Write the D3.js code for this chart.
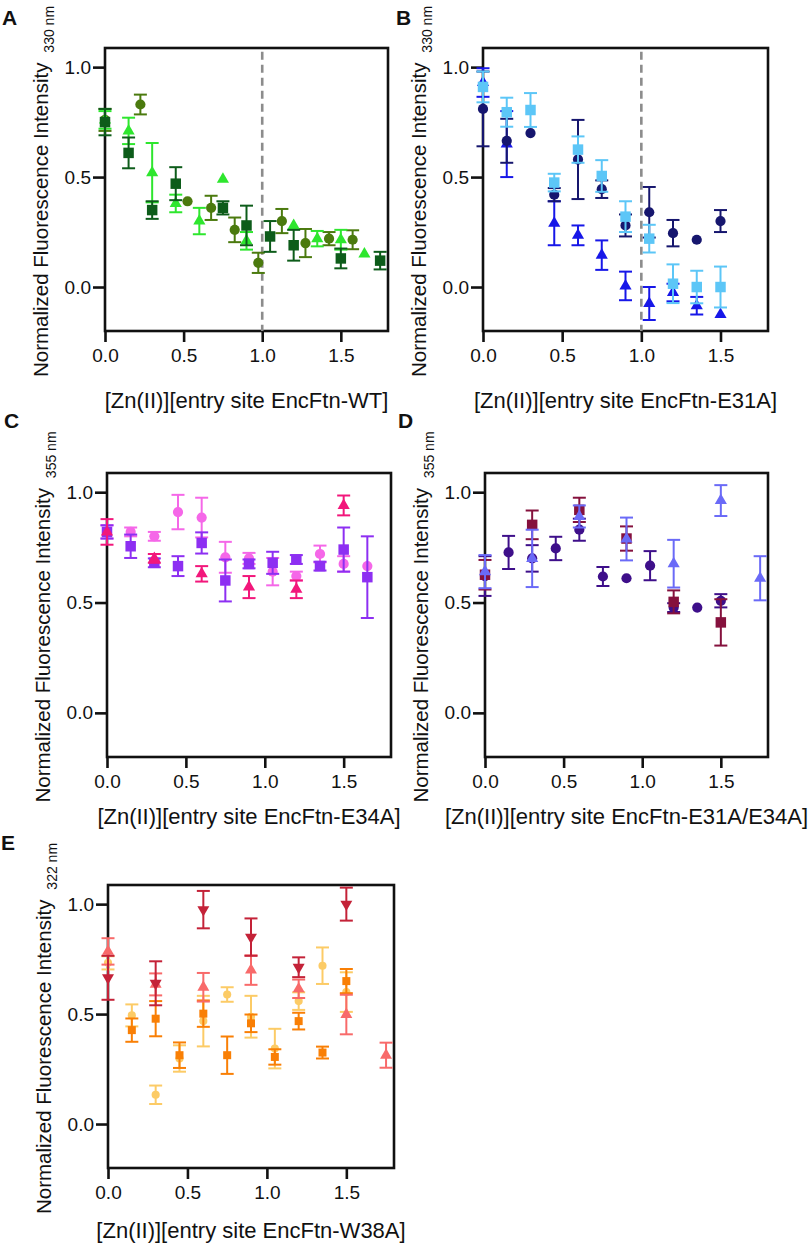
<!DOCTYPE html>
<html>
<head>
<meta charset="utf-8">
<script src="https://cdn.jsdelivr.net/npm/d3@7.9.0/dist/d3.min.js"></script>
<style>
  body { margin: 0; background: #fff; }
  svg { display: block; }
  text { font-family: "Liberation Sans", Arial, sans-serif; fill: #111; }
</style>
</head>
<body>
<svg id="fig" width="812" height="1243"></svg>
<script>
// ---------- data ----------
const xTicks = [0, 0.5, 1.0, 1.5];
const yTicks = [0, 0.5, 1.0];

// A: EncFtn-WT (330 nm)
const aSqX = [0, 0.15, 0.3, 0.45, 0.75, 0.9, 1.05, 1.2, 1.5, 1.75];
const aSqY = [0.75, 0.61, 0.35, 0.47, 0.36, 0.28, 0.23, 0.19, 0.13, 0.12];
const aSqE = [0.06, 0.07, 0.04, 0.075, 0.03, 0.09, 0.07, 0.07, 0.045, 0.04];
const aCiX = [0, 0.225, 0.525, 0.675, 0.825, 0.975, 1.125, 1.275, 1.425, 1.575];
const aCiY = [0.76, 0.83, 0.39, 0.36, 0.26, 0.11, 0.30, 0.20, 0.22, 0.215];
const aCiE = [0.05, 0.045, 0, 0.055, 0.056, 0.046, 0.055, 0.064, 0.03, 0.043];
const aTrX = [0, 0.15, 0.3, 0.45, 0.6, 0.75, 0.9, 1.2, 1.35, 1.5, 1.65];
const aTrY = [0.76, 0.71, 0.52, 0.38, 0.30, 0.49, 0.21, 0.28, 0.22, 0.215, 0.15];
const aTrE = [0.04, 0.06, 0.135, 0.04, 0.06, 0, 0.04, 0, 0.035, 0.045, 0];

// B: EncFtn-E31A (330 nm)
const bX = [0, 0.15, 0.3, 0.45, 0.6, 0.75, 0.9, 1.05, 1.2, 1.35, 1.5];
const bCiY = [0.81, 0.665, 0.70, 0.42, 0.58, 0.445, 0.28, 0.34, 0.245, 0.215, 0.30];
const bCiE = [0.17, 0.10, 0, 0.03, 0.18, 0.04, 0.05, 0.115, 0.06, 0, 0.05];
const bSqY = [0.91, 0.795, 0.805, 0.475, 0.625, 0.505, 0.32, 0.22, 0.015, 0.0, 0.0];
const bSqE = [0.07, 0.066, 0.077, 0.04, 0.06, 0.072, 0.07, 0.063, 0.088, 0.074, 0.093];
const bTrX = [0, 0.15, 0.45, 0.6, 0.75, 0.9, 1.05, 1.2, 1.35, 1.5];
const bTrY = [0.93, 0.65, 0.29, 0.235, 0.145, 0.005, -0.075, -0.025, -0.085, -0.125];
const bTrE = [0.065, 0.15, 0.1, 0.045, 0.067, 0.065, 0.075, 0.04, 0.04, 0];

// C: EncFtn-E34A (355 nm)
const cX = [0, 0.15, 0.3, 0.45, 0.6, 0.75, 0.9, 1.05, 1.2, 1.35, 1.5, 1.65];
const cCiY = [0.82, 0.82, 0.80, 0.91, 0.885, 0.705, 0.70, 0.64, 0.62, 0.72, 0.675, 0.665];
const cCiE = [0.03, 0.02, 0.02, 0.078, 0.09, 0.07, 0.025, 0.062, 0.02, 0.038, 0.035, 0];
const cSqY = [0.82, 0.755, 0.68, 0.665, 0.77, 0.60, 0.675, 0.68, 0.695, 0.665, 0.74, 0.615];
const cSqE = [0.03, 0.053, 0.02, 0.045, 0.048, 0.095, 0.02, 0.05, 0.02, 0.02, 0.10, 0.185];
const cTrX = [0, 0.3, 0.6, 0.9, 1.2, 1.5];
const cTrY = [0.82, 0.70, 0.63, 0.57, 0.56, 0.94];
const cTrE = [0.058, 0.02, 0.035, 0.05, 0.04, 0.045];

// D: EncFtn-E31A/E34A (355 nm)
const dCiX = [0, 0.15, 0.3, 0.45, 0.6, 0.75, 0.9, 1.05, 1.2, 1.35, 1.5];
const dCiY = [0.62, 0.727, 0.70, 0.745, 0.83, 0.618, 0.61, 0.667, 0.477, 0.477, 0.508];
const dCiE = [0.09, 0.075, 0.06, 0.053, 0.05, 0.043, 0, 0.066, 0.02, 0, 0.03];
const dSqX = [0, 0.3, 0.6, 0.9, 1.2, 1.5];
const dSqY = [0.626, 0.852, 0.92, 0.79, 0.503, 0.41];
const dSqE = [0.067, 0.065, 0.055, 0.055, 0.052, 0.105];
const dTrX = [0, 0.3, 0.6, 0.9, 1.2, 1.5, 1.75];
const dTrY = [0.64, 0.70, 0.89, 0.788, 0.676, 0.962, 0.61];
const dTrE = [0.075, 0.13, 0.05, 0.097, 0.108, 0.07, 0.1];

// E: EncFtn-W38A (322 nm)
const eCiX = [0, 0.15, 0.3, 0.45, 0.6, 0.75, 0.9, 1.05, 1.2, 1.35, 1.5];
const eCiY = [0.733, 0.494, 0.133, 0.298, 0.468, 0.589, 0.488, 0.343, 0.559, 0.72, 0.60];
const eCiE = [0.03, 0.05, 0.042, 0.06, 0.115, 0.033, 0.095, 0.09, 0.04, 0.083, 0.09];
const eSqX = [0.15, 0.3, 0.45, 0.6, 0.75, 0.9, 1.05, 1.2, 1.35, 1.5];
const eSqY = [0.427, 0.479, 0.313, 0.502, 0.313, 0.458, 0.305, 0.468, 0.325, 0.65];
const eSqE = [0.053, 0.08, 0.058, 0.06, 0.085, 0.04, 0.035, 0.038, 0.027, 0.055];
const eUpX = [0, 0.3, 0.6, 0.9, 1.2, 1.5, 1.75];
const eUpY = [0.785, 0.635, 0.622, 0.70, 0.615, 0.498, 0.313];
const eUpE = [0.06, 0.05, 0.065, 0.067, 0.042, 0.09, 0.057];
const eDnX = [0, 0.3, 0.6, 0.9, 1.2, 1.5];
const eDnY = [0.665, 0.64, 0.975, 0.85, 0.713, 1.0];
const eDnE = [0.1, 0.1, 0.085, 0.085, 0.045, 0.075];

// ---------- panels ----------
// box = [left, top, right, bottom]
const panels = [
  { letter: 'A', lx: 2, ly: 25, box: [105, 48, 388, 331], sub: '330 nm', dashed: true, titleOff: 77,
    xLabel: '[Zn(II)][entry site EncFtn-WT]',
    series: [
      { shape: 'circle', color: '#4b7a0e', x: aCiX, y: aCiY, e: aCiE },
      { shape: 'triangle', color: '#2ee62e', x: aTrX, y: aTrY, e: aTrE },
      { shape: 'square', color: '#0d5c1a', x: aSqX, y: aSqY, e: aSqE }
    ] },
  { letter: 'B', lx: 396, ly: 25, box: [483, 48, 768, 331], sub: '330 nm', dashed: true, titleOff: 77,
    xLabel: '[Zn(II)][entry site EncFtn-E31A]',
    series: [
      { shape: 'triangle', color: '#1717e8', x: bTrX, y: bTrY, e: bTrE },
      { shape: 'circle', color: '#16166e', x: bX, y: bCiY, e: bCiE },
      { shape: 'square', color: '#5cc6f7', x: bX, y: bSqY, e: bSqE }
    ] },
  { letter: 'C', lx: 4, ly: 428, box: [107, 473, 391, 757], sub: '355 nm', dashed: false, titleOff: 67,
    xLabel: '[Zn(II)][entry site EncFtn-E34A]',
    series: [
      { shape: 'circle', color: '#f567e8', x: cX, y: cCiY, e: cCiE },
      { shape: 'square', color: '#8d2ff2', x: cX, y: cSqY, e: cSqE },
      { shape: 'triangle', color: '#f2177b', x: cTrX, y: cTrY, e: cTrE }
    ] },
  { letter: 'D', lx: 398, ly: 428, box: [485, 473, 768, 757], sub: '355 nm', dashed: false, titleOff: 67,
    xLabel: '[Zn(II)][entry site EncFtn-E31A/E34A]',
    series: [
      { shape: 'circle', color: '#3e0f8a', x: dCiX, y: dCiY, e: dCiE },
      { shape: 'square', color: '#85113d', x: dSqX, y: dSqY, e: dSqE },
      { shape: 'triangle', color: '#6a6af7', x: dTrX, y: dTrY, e: dTrE }
    ] },
  { letter: 'E', lx: 1, ly: 850, box: [108, 885, 394, 1168], sub: '322 nm', dashed: false, titleOff: 70, small: true,
    xLabel: '[Zn(II)][entry site EncFtn-W38A]',
    series: [
      { shape: 'circle', color: '#fccb66', x: eCiX, y: eCiY, e: eCiE },
      { shape: 'square', color: '#f97f05', x: eSqX, y: eSqY, e: eSqE },
      { shape: 'triangle', color: '#f86a6a', x: eUpX, y: eUpY, e: eUpE },
      { shape: 'down', color: '#c42238', x: eDnX, y: eDnY, e: eDnE }
    ] }
];

const svg = d3.select('#fig');

function symbolPath(shape, small) {
  if (shape === 'square') return d3.symbol(d3.symbolSquare, small ? 64 : 110)();
  if (shape === 'circle') return d3.symbol(d3.symbolCircle, small ? 52 : 82)();
  return d3.symbol(d3.symbolTriangle, small ? 62 : 64)();
}

panels.forEach(p => {
  const [L, T, R, B] = p.box;
  const x = d3.scaleLinear().domain([0, 1.8]).range([L, R]);
  const y = d3.scaleLinear().domain([-0.2, 1.087]).range([B, T]);
  const g = svg.append('g');

  // panel letter
  g.append('text').attr('x', p.lx).attr('y', p.ly)
    .attr('font-size', 21).attr('font-weight', 'bold').text(p.letter);

  // axes
  const xa = g.append('g').attr('transform', `translate(0,${B})`)
    .call(d3.axisBottom(x).tickValues(xTicks).tickFormat(d3.format('.1f')).tickSize(11).tickPadding(7));
  const ya = g.append('g').attr('transform', `translate(${L},0)`)
    .call(d3.axisLeft(y).tickValues(yTicks).tickFormat(d3.format('.1f')).tickSize(12).tickPadding(2));
  [xa, ya].forEach(a => {
    a.select('.domain').remove();
    a.selectAll('line').attr('stroke', '#111').attr('stroke-width', 2.6);
    a.selectAll('text').attr('font-size', 19).attr('fill', '#111')
      .attr('font-family', '"Liberation Sans", Arial, sans-serif');
  });

  // frame
  g.append('rect').attr('x', L).attr('y', T).attr('width', R - L).attr('height', B - T)
    .attr('fill', 'none').attr('stroke', '#111').attr('stroke-width', 2.6);

  // dashed line at 1 equivalent
  if (p.dashed) {
    g.append('line').attr('x1', x(1)).attr('x2', x(1)).attr('y1', y(1.07)).attr('y2', y(-0.2))
      .attr('stroke', '#8c8c8c').attr('stroke-width', 2.6).attr('stroke-dasharray', '8,5');
  }

  // series
  p.series.forEach(s => {
    const pts = s.x.map((xv, i) => ({ x: xv, y: s.y[i], e: s.e[i] }));
    const sg = g.append('g');
    const eb = sg.selectAll('g.eb').data(pts.filter(d => d.e > 0)).join('g')
      .attr('stroke', s.color).attr('stroke-width', 2);
    eb.append('line').attr('x1', d => x(d.x)).attr('x2', d => x(d.x))
      .attr('y1', d => y(d.y - d.e)).attr('y2', d => y(d.y + d.e));
    eb.append('line').attr('x1', d => x(d.x) - 6.5).attr('x2', d => x(d.x) + 6.5)
      .attr('y1', d => y(d.y + d.e)).attr('y2', d => y(d.y + d.e));
    eb.append('line').attr('x1', d => x(d.x) - 6.5).attr('x2', d => x(d.x) + 6.5)
      .attr('y1', d => y(d.y - d.e)).attr('y2', d => y(d.y - d.e));
    const sym = symbolPath(s.shape, p.small);
    sg.selectAll('path.m').data(pts).join('path')
      .attr('d', sym).attr('fill', s.color)
      .attr('transform', d => `translate(${x(d.x)},${y(d.y)})` + (s.shape === 'down' ? ' rotate(180)' : ''));
  });

  // y title with subscript
  const yt = g.append('text')
    .attr('transform', `translate(${L - 57},${(T + B) / 2 + 2}) rotate(-90)`)
    .attr('text-anchor', 'middle').attr('font-size', 20.5);
  yt.append('tspan').text('Normalized Fluorescence Intensity');
  yt.append('tspan').attr('dx', 10).attr('dy', 6).attr('font-size', 14).text(p.sub);

  // x title
  g.append('text').attr('x', (L + R) / 2).attr('y', B + p.titleOff)
    .attr('text-anchor', 'middle').attr('font-size', 22).text(p.xLabel);
});
</script>
</body>
</html>
